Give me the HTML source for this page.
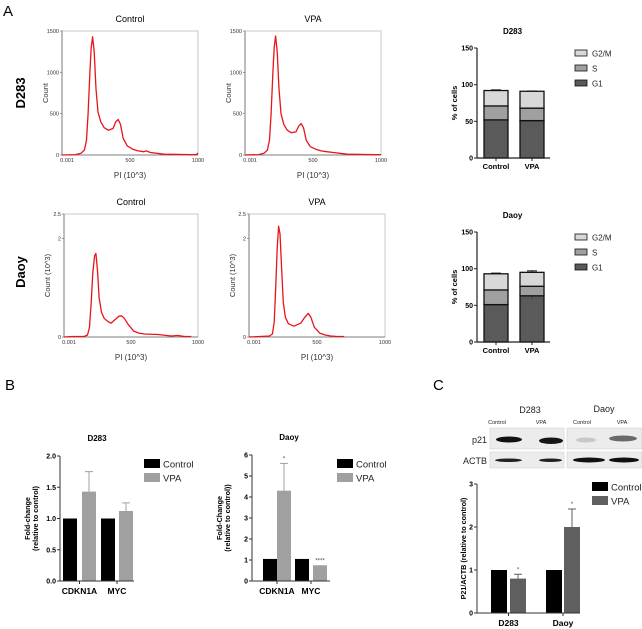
<!DOCTYPE html>
<html><head><meta charset="utf-8">
<style>
html,body{margin:0;padding:0;background:#fff;}
svg{display:block;font-family:"Liberation Sans",Arial,sans-serif;}
</style></head>
<body>
<svg id="fig" width="642" height="629" viewBox="0 0 642 629" xmlns="http://www.w3.org/2000/svg">
<text x="3" y="16" font-size="15">A</text>
<text x="5" y="390" font-size="15">B</text>
<text x="433" y="390" font-size="15">C</text>
<text transform="translate(25,93) rotate(-90)" text-anchor="middle" font-size="13" font-weight="bold">D283</text>
<text transform="translate(25,272) rotate(-90)" text-anchor="middle" font-size="13" font-weight="bold">Daoy</text>
</svg>
<script>
// ---------- Histogram data (PI value, count) ----------
const histD283CtrlX = [0,100,140,165,180,192,205,215,225,237,250,265,285,310,340,375,395,413,430,450,480,520,560,600,620,650,750,950,990,1000];
const histD283CtrlY = [0,5,20,60,180,500,1000,1300,1430,1250,800,520,400,330,300,320,400,430,370,200,110,70,50,40,50,30,10,5,5,25];
const histD283VpaX = [0,100,140,165,180,192,205,215,225,237,250,265,285,310,340,375,395,413,430,450,480,520,560,600,650,750,950,1000];
const histD283VpaY = [0,5,20,60,180,500,1000,1300,1440,1250,800,500,370,300,270,280,350,380,330,180,100,70,50,40,30,10,5,5];
const histDaoyCtrlX = [0,60,150,175,190,203,215,228,238,250,262,280,300,325,350,380,410,430,450,480,520,560,600,700,800,850,900,950];
const histDaoyCtrlY = [0,0.01,0.01,0.04,0.2,0.7,1.3,1.65,1.7,1.35,0.8,0.5,0.38,0.32,0.28,0.35,0.42,0.43,0.38,0.25,0.12,0.08,0.06,0.05,0.02,0.03,0.01,0.01];
const histDaoyVpaX = [0,80,150,172,185,196,207,218,228,240,252,268,290,330,380,410,435,455,480,520,560,600,650,700];
const histDaoyVpaY = [0,0.01,0.02,0.06,0.3,1.0,1.8,2.25,2.1,1.4,0.7,0.4,0.27,0.22,0.28,0.4,0.48,0.4,0.2,0.08,0.04,0.02,0.01,0.01];

// ---------- Stacked bar data (% of cells) ----------
const phaseNames = ["G1","S","G2/M"];
const stackGroups = ["Control","VPA"];
const d283G1 = [52,51], d283S = [19,17], d283G2 = [21,23];
const d283ErrG1 = [2,1], d283ErrS = [5,5], d283ErrG2 = [1,0.5];
const daoyG1 = [51,63], daoyS = [20,13], daoyG2 = [22,19];
const daoyErrG1 = [4,1], daoyErrS = [2,2], daoyErrG2 = [1,2];
const stackTicks = [0,50,100,150];

// ---------- Panel B ----------
const geneNames = ["CDKN1A","MYC"];
const bD283Ctrl = [1.0,1.0], bD283Vpa = [1.43,1.12], bD283VpaErr = [0.32,0.13];
const bD283Ticks = ["0.0","0.5","1.0","1.5","2.0"];
const bDaoyCtrl = [1.05,1.05], bDaoyVpa = [4.3,0.75], bDaoyVpaErr = [1.3,0];
const bDaoyTicks = ["0","1","2","3","4","5","6"];
const bDaoyStars = ["*","****"];

// ---------- Panel C ----------
const cGroups = ["D283","Daoy"];
const cCtrl = [1.0,1.0], cVpa = [0.8,2.0], cVpaErr = [0.1,0.42];
const cTicks = ["0","1","2","3"];
const cStars = ["*","*"];

const NS = "http://www.w3.org/2000/svg";
const svg = document.getElementById("fig");
function mk(tag, attrs, parent) {
  const e = document.createElementNS(NS, tag);
  for (const k in attrs) e.setAttribute(k, attrs[k]);
  (parent || svg).appendChild(e);
  return e;
}
function txt(x, y, s, size, extra) {
  const t = mk("text", Object.assign({x: x, y: y, "font-size": size}, extra || {}));
  t.textContent = s;
  return t;
}

// ---------- Histograms ----------
function histogram(box, xs, ys, ymax, yTicks, yTitle, title, name) {
  const g = mk("g", {});
  
  
  const sx = v => box.l + (v / 1000) * (box.r - box.l);
  const sy = v => box.b - (v / ymax) * (box.b - box.t);
  const frame = mk("rect", {x: box.l, y: box.t, width: box.r - box.l, height: box.b - box.t, fill: "none", stroke: "#bbb", "stroke-width": 0.8}, g);
  
  
  const ax = mk("path", {d: `M${box.l},${box.t}V${box.b}H${box.r}`, stroke: "#666", fill: "none", "stroke-width": 0.8}, g);
  
  
  yTicks.forEach(tk => {
    const y = sy(tk.v);
    mk("line", {x1: box.l - 2, x2: box.l, y1: y, y2: y, stroke: "#666", "stroke-width": 0.6}, g);
    const t = txt(box.l - 3, y + 2, tk.s, 5.5, {"text-anchor": "end", fill: "#333"});
    
    
  });
  [[0, "0.001"], [500, "500"], [1000, "1000"]].forEach(p => {
    const t = txt(sx(p[0]) + (p[0] === 0 ? 5 : 0), box.b + 7, p[1], 5.5, {"text-anchor": "middle", fill: "#333"});
    
    
  });
  let d = "";
  xs.forEach((v, i) => { d += (i ? "L" : "M") + sx(v).toFixed(1) + "," + sy(ys[i]).toFixed(1); });
  const line = mk("path", {d: d, stroke: "#e8141a", fill: "none", "stroke-width": 1.3, "stroke-linejoin": "round"}, g);
  
  
  const tt = txt((box.l + box.r) / 2, box.t - 9, title, 9, {"text-anchor": "middle"});
  
  
  const xt = txt((box.l + box.r) / 2, box.b + 23, "PI (10^3)", 8, {"text-anchor": "middle", fill: "#333"});
  
  
  const yt = txt(0, 0, yTitle, 7.5, {"text-anchor": "middle", fill: "#333", transform: `translate(${box.l - 14},${(box.t + box.b) / 2}) rotate(-90)`});
  
  
}
const tD283 = [{v:0,s:"0"},{v:500,s:"500"},{v:1000,s:"1000"},{v:1500,s:"1500"}];
const tDaoy = [{v:0,s:"0"},{v:2,s:"2"},{v:2.5,s:"2.5"}];
histogram({l:62,r:198,t:31,b:155}, histD283CtrlX, histD283CtrlY, 1500, tD283, "Count", "Control", "histogram-d283-control");
histogram({l:245,r:381,t:31,b:155}, histD283VpaX, histD283VpaY, 1500, tD283, "Count", "VPA", "histogram-d283-vpa");
histogram({l:64,r:198,t:214,b:337}, histDaoyCtrlX, histDaoyCtrlY, 2.5, tDaoy, "Count (10^3)", "Control", "histogram-daoy-control");
histogram({l:249,r:385,t:214,b:337}, histDaoyVpaX, histDaoyVpaY, 2.5, tDaoy, "Count (10^3)", "VPA", "histogram-daoy-vpa");

// ---------- Stacked bars ----------
const phaseColors = ["#5a5a5a","#a0a0a0","#d8d8d8"];
function stacked(ax, title, g1, s, g2, e1, e2, e3, name, stars) {
  const g = mk("g", {});
  
  
  const sy = v => ax.b - (v / 150) * (ax.b - ax.t);
  const bw = 24, xs = [ax.l + 7, ax.l + 43];
  stackGroups.forEach((grp, i) => {
    const vals = [g1[i], s[i], g2[i]];
    const errs = [e1[i], e2[i], e3[i]];
    let base = 0;
    vals.forEach((v, j) => {
      const r = mk("rect", {x: xs[i], y: sy(base + v), width: bw, height: sy(base) - sy(base + v), fill: phaseColors[j], stroke: "#111", "stroke-width": 1.3}, g);
      
      
      base += v;
      const cx = xs[i] + bw / 2, ey = sy(base + errs[j]);
      const eb = mk("path", {d: `M${cx},${sy(base)}V${ey}M${cx - 5},${ey}H${cx + 5}`, stroke: "#111", "stroke-width": 0.9, fill: "none"}, g);
      
      
    });
    const xl = txt(xs[i] + bw / 2, ax.b + 11, grp, 7.5, {"text-anchor": "middle", "font-weight": "bold"});
    
    
  });
  if (stars) {
    const st = txt(xs[1] + bw / 2, sy(g1[1]) + 5, "*", 6, {"text-anchor": "middle", fill: "#333"});
    
    
  }
  const axp = mk("path", {d: `M${ax.l},${ax.t}V${ax.b}H${ax.r}`, stroke: "#222", fill: "none", "stroke-width": 1.2}, g);
  
  
  stackTicks.forEach(v => {
    mk("line", {x1: ax.l - 3, x2: ax.l, y1: sy(v), y2: sy(v), stroke: "#222", "stroke-width": 1}, g);
    const t = txt(ax.l - 4, sy(v) + 2.5, String(v), 7, {"text-anchor": "end", "font-weight": "bold"});
    
    
  });
  xs.forEach(x => mk("line", {x1: x + bw / 2, x2: x + bw / 2, y1: ax.b, y2: ax.b + 3, stroke: "#222"}, g));
  const tt = txt((ax.l + ax.r) / 2 - 1, ax.t - 14, title, 8, {"text-anchor": "middle", "font-weight": "bold"});
  
  
  const yt = txt(0, 0, "% of cells", 7.5, {"text-anchor": "middle", "font-weight": "bold", transform: `translate(${ax.l - 20},${(ax.t + ax.b) / 2}) rotate(-90)`});
  
  
  [2, 1, 0].forEach((j, k) => {
    const y = ax.t + 2 + k * 15;
    const lr = mk("rect", {x: 575, y: y, width: 12, height: 6, fill: phaseColors[j], stroke: "#111", "stroke-width": 0.8}, g);
    
    
    const lt = txt(592, y + 6.5, phaseNames[j], 8, {fill: "#222"});
    
    
  });
}
stacked({l:477,r:550,t:48,b:158}, "D283", d283G1, d283S, d283G2, d283ErrG1, d283ErrS, d283ErrG2, "stacked-chart-d283", false);
stacked({l:477,r:550,t:232,b:342}, "Daoy", daoyG1, daoyS, daoyG2, daoyErrG1, daoyErrS, daoyErrG2, "stacked-chart-daoy", true);

// ---------- Grouped bars (B and C) ----------
function grouped(cfg) {
  const g = mk("g", {});
  
  
  const ymax = Number(cfg.ticks[cfg.ticks.length - 1]);
  const sy = v => cfg.b - (v / ymax) * (cfg.b - cfg.t);
  cfg.groups.forEach((grp, i) => {
    const cxs = cfg.bx[i];
    const rc = mk("rect", {x: cxs[0], y: sy(cfg.ctrl[i]), width: cfg.bw, height: cfg.b - sy(cfg.ctrl[i]), fill: "#000"}, g);
    
    
    const rv = mk("rect", {x: cxs[1], y: sy(cfg.vpa[i]), width: cfg.bw, height: cfg.b - sy(cfg.vpa[i]), fill: cfg.vpaColor}, g);
    
    
    const cx = cxs[1] + cfg.bw / 2;
    if (cfg.err[i] > 0) {
      const ey = sy(cfg.vpa[i] + cfg.err[i]);
      const eb = mk("path", {d: `M${cx},${sy(cfg.vpa[i])}V${ey}M${cx - 4},${ey}H${cx + 4}`, stroke: cfg.vpaColor, "stroke-width": 1, fill: "none"}, g);
      
      
    }
    if (cfg.stars) {
      const st = txt(cx, sy(cfg.vpa[i] + cfg.err[i]) - 3, cfg.stars[i], 6, {"text-anchor": "middle", fill: "#444"});
      
      
    }
    const xl = txt((cxs[0] + cxs[1] + cfg.bw) / 2, cfg.b + 13, grp, 8.5, {"text-anchor": "middle", "font-weight": "bold"});
    
    
    mk("line", {x1: (cxs[0] + cxs[1] + cfg.bw) / 2, x2: (cxs[0] + cxs[1] + cfg.bw) / 2, y1: cfg.b, y2: cfg.b + 3, stroke: "#333"}, g);
  });
  const axp = mk("path", {d: `M${cfg.l},${cfg.t}V${cfg.b}H${cfg.r}`, stroke: "#333", fill: "none", "stroke-width": 1}, g);
  
  
  cfg.ticks.forEach(s => {
    const y = sy(Number(s));
    mk("line", {x1: cfg.l - 3, x2: cfg.l, y1: y, y2: y, stroke: "#333"}, g);
    const t = txt(cfg.l - 4, y + 2.5, s, 7, {"text-anchor": "end", "font-weight": "bold"});
    
    
  });
  if (cfg.title) {
    const tt = txt(cfg.titleX, cfg.t - 15, cfg.title, 8, {"text-anchor": "middle", "font-weight": "bold"});
    
    
  }
  cfg.ytitle.forEach((s, k) => {
    const yt = txt(0, 0, s, 7.2, {"text-anchor": "middle", "font-weight": "bold", transform: `translate(${cfg.ytx + k * 8},${(cfg.t + cfg.b) / 2}) rotate(-90)`});
    
    
  });
  [["Control", "#000"], ["VPA", cfg.vpaColor]].forEach((e, k) => {
    const y = cfg.legY + k * 14;
    const lr = mk("rect", {x: cfg.legX, y: y, width: 16, height: 9, fill: e[1]}, g);
    
    
    const lt = txt(cfg.legX + 19, y + 8.5, e[0], 9.5, {fill: "#222"});
    
    
  });
}
grouped({name: "chart-b-d283", l: 60, r: 134, t: 456, b: 581, bw: 14, bx: [[63, 82], [101, 119]],
  groups: geneNames, ctrl: bD283Ctrl, vpa: bD283Vpa, err: bD283VpaErr, ticks: bD283Ticks, vpaColor: "#a0a0a0",
  title: "D283", titleX: 97, ytitle: ["Fold-change", "(relative to control)"], ytx: 30, legX: 144, legY: 459});
grouped({name: "chart-b-daoy", l: 252, r: 330, t: 455, b: 581, bw: 14, bx: [[263, 277], [295, 313]],
  groups: geneNames, ctrl: bDaoyCtrl, vpa: bDaoyVpa, err: bDaoyVpaErr, ticks: bDaoyTicks, vpaColor: "#a0a0a0", stars: bDaoyStars,
  title: "Daoy", titleX: 289, ytitle: ["Fold-Change", "(relative to control))"], ytx: 222, legX: 337, legY: 459});
grouped({name: "chart-c-p21", l: 477, r: 580, t: 484, b: 613, bw: 16, bx: [[491, 510], [546, 564]],
  groups: cGroups, ctrl: cCtrl, vpa: cVpa, err: cVpaErr, ticks: cTicks, vpaColor: "#5f5f5f", stars: cStars,
  title: null, ytitle: ["P21/ACTB (relative to control)"], ytx: 466, legX: 592, legY: 482});

// ---------- Western blot ----------
const blot = mk("g", {});


[[490, 428, 74, 21], [567, 428, 75, 21], [490, 452, 74, 16], [567, 452, 75, 16]].forEach(b => {
  const r = mk("rect", {x: b[0], y: b[1], width: b[2], height: b[3], fill: "#ececec", stroke: "#ccc", "stroke-width": 0.5}, blot);
  
  
});
[[496, 437, 26, 5, "#111"], [539, 438, 24, 5.5, "#151515"], [576, 438, 20, 4, "#c8c8c8"], [609, 436, 28, 5, "#6a6a6a"],
 [495, 459, 27, 2.5, "#222"], [539, 459, 23, 2.5, "#222"], [573, 458, 32, 4, "#111"], [609, 458, 30, 4, "#111"]].forEach(b => {
  const e = mk("ellipse", {cx: b[0] + b[2] / 2, cy: b[1] + b[3] / 2, rx: b[2] / 2, ry: b[3] / 2 + 0.5, fill: b[4]}, blot);
  
  
});
[[530, 413, "D283", 9], [604, 412, "Daoy", 9], [497, 424, "Control", 5.5], [541, 424, "VPA", 5.5], [582, 424, "Control", 5.5], [622, 424, "VPA", 5.5]].forEach(l => {
  const t = txt(l[0], l[1], l[2], l[3], {"text-anchor": "middle", fill: "#222"});
  
  
});
const lp = txt(487, 443, "p21", 9, {"text-anchor": "end", fill: "#222"});


const la = txt(487, 464, "ACTB", 9, {"text-anchor": "end", fill: "#222"});


</script>
</body></html>
